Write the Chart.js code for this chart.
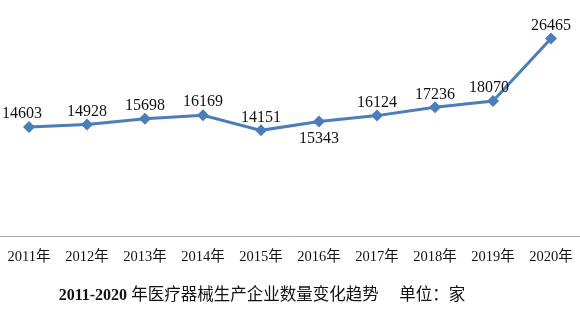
<!DOCTYPE html>
<html>
<head>
<meta charset="utf-8">
<script src="https://cdn.jsdelivr.net/npm/chart.js@4/dist/chart.umd.min.js"></script>
<style>
  html, body { margin: 0; padding: 0; background: #fff; }
  canvas { display: block; }
</style>
</head>
<body>
<canvas id="trend" width="580" height="325"></canvas>
<script>
const years = ['2011年', '2012年', '2013年', '2014年', '2015年', '2016年', '2017年', '2018年', '2019年', '2020年'];
const companies = [14603, 14928, 15698, 16169, 14151, 15343, 16124, 17236, 18070, 26465];
const titleNum = '2011-2020';
const titleText = ' 年医疗器械生产企业数量变化趋势　 单位：家';

const blue = '#4a7ebb';
const serif = "'Liberation Serif', 'Times New Roman', 'Noto Sans CJK SC', serif";

// value labels above the points (2016 goes below)
const valueLabels = {
    id: 'valueLabels',
    afterDatasetsDraw(chart) {
        const ctx = chart.ctx;
        const meta = chart.getDatasetMeta(0);
        ctx.save();
        ctx.font = '16px ' + serif;
        ctx.fillStyle = '#111';
        ctx.textAlign = 'center';
        ctx.textBaseline = 'middle';
        meta.data.forEach((pt, i) => {
            const below = i === 5;
            let dx = 0;
            if (i === 0) dx = -7;
            if (i === 8) dx = -4;
            ctx.fillText(String(companies[i]), pt.x + dx, below ? pt.y + 17 : pt.y - 13);
        });
        ctx.restore();
    }
};

// caption under the axis, bold digits then the chinese part
const caption = {
    id: 'caption',
    afterDraw(chart) {
        const ctx = chart.ctx;
        ctx.save();
        ctx.fillStyle = '#111';
        ctx.textBaseline = 'middle';
        ctx.font = 'bold 16px ' + serif;
        const w1 = ctx.measureText(titleNum).width;
        ctx.font = '16.5px ' + serif;
        const w2 = ctx.measureText(titleText).width;
        let x = 262 - (w1 + w2) / 2;
        const y = 296;
        ctx.font = 'bold 16px ' + serif;
        ctx.fillText(titleNum, x, y);
        ctx.font = '16.5px ' + serif;
        ctx.fillText(titleText, x + w1, y);
        ctx.restore();
    }
};

new Chart(document.getElementById('trend'), {
    type: 'line',
    data: {
        labels: years,
        datasets: [{
            data: companies,
            borderColor: blue,
            backgroundColor: blue,
            borderWidth: 3,
            pointStyle: 'rectRot',
            pointRadius: 6,
            pointBorderWidth: 0,
            tension: 0
        }]
    },
    options: {
        responsive: false,
        animation: false,
        layout: { autoPadding: false, padding: { top: 12, left: 0, right: 0, bottom: 47 } },
        plugins: {
            legend: { display: false },
            tooltip: { enabled: false }
        },
        scales: {
            x: {
                offset: true,
                grid: { display: false, drawTicks: false },
                border: { display: true, color: '#a6a6a6', width: 1 },
                ticks: {
                    color: '#111',
                    padding: 7,
                    maxRotation: 0,
                    autoSkip: false,
                    font: { family: serif, size: 14.5, lineHeight: 1.93 }
                }
            },
            y: {
                display: false,
                min: 0,
                max: 30000
            }
        }
    },
    plugins: [valueLabels, caption]
});
</script>
</body>
</html>
